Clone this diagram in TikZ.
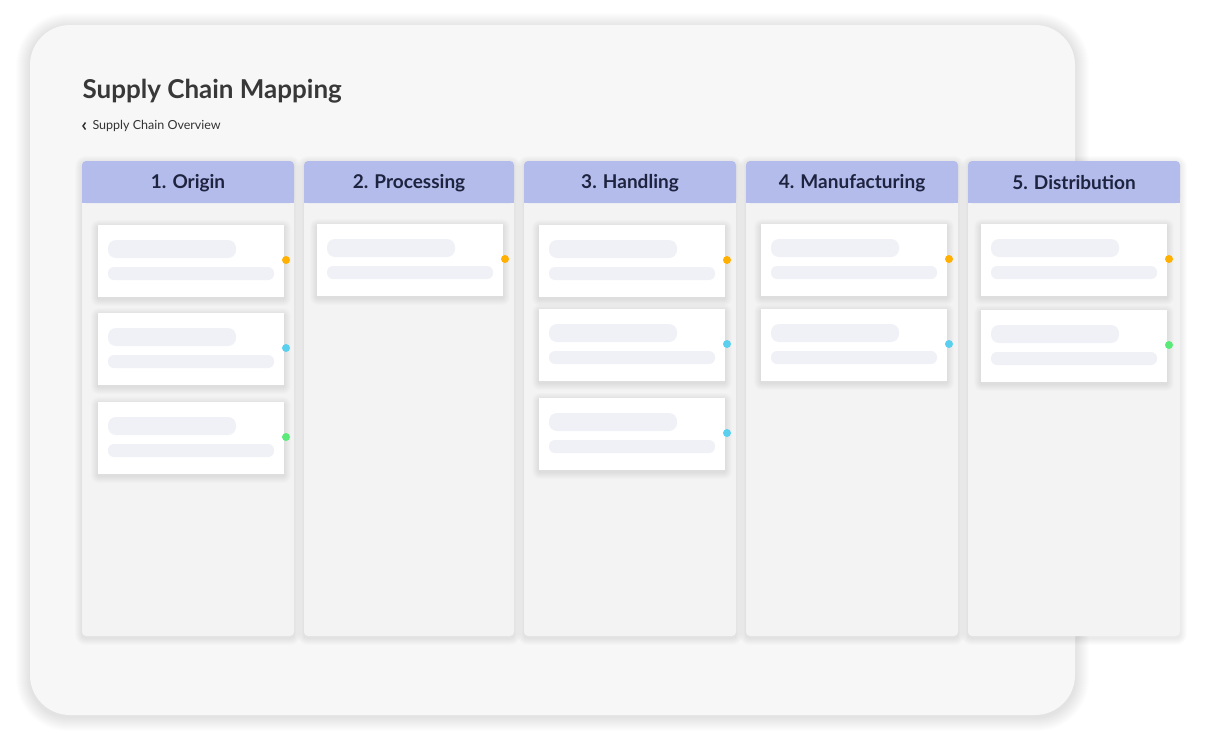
\documentclass[tikz,border=0pt]{standalone}
\usepackage{fontspec}
\setmainfont{Lato}
\definecolor{hdr}{HTML}{B3BCEB}
\definecolor{colbg}{HTML}{F3F3F3}
\definecolor{bar}{HTML}{F0F1F6}
\definecolor{dor}{HTML}{FFB000}
\definecolor{dcy}{HTML}{5BD0EE}
\definecolor{dgr}{HTML}{5BEA7A}
\definecolor{navy}{HTML}{1E2340}
\tikzset{
 colbody/.style={fill=colbg,rounded corners=4pt},
 barA/.style={fill=bar,rounded corners=8pt},
 barB/.style={fill=bar,rounded corners=6pt},
 hdrtext/.style={font=\fontsize{19}{22}\selectfont\bfseries,text=navy},
}
% soft shadow: x1 y1 x2 y2 radius steps opacity
\newcommand{\softshadow}[7]{%
 \foreach \k in {1,...,#6}{
  \path[fill=black,fill opacity=#7,rounded corners=#5+\k]
   (#1-\k,#2-\k+2) rectangle (#3+\k,#4+\k+2);
 }}
\newcommand{\mycard}[4]{% x y color name
 \softshadow{#1}{#2}{#1+186}{#2+72}{1}{7}{0.012}
 \path[fill=white] (#1,#2) rectangle (#1+186,#2+72);
 \path[barA] (#1+10,#2+15) rectangle (#1+138,#2+33);
 \path[barB] (#1+10,#2+42) rectangle (#1+176,#2+55);
 \node[circle,fill=#3,inner sep=0pt,minimum size=8pt] (#4) at (#1+188,#2+35) {};
}
\begin{document}
\begin{tikzpicture}[x=1pt,y=-1pt]
\useasboundingbox (0,0) rectangle (1229,750);
\softshadow{30}{25}{1075}{715}{38}{14}{0.006}
\path[fill=white!97!black,rounded corners=40pt] (30,25) rectangle (1075,715);
\node[anchor=west,font=\fontsize{26}{30}\selectfont\bfseries,text=black!78] (title) at (79,91) {Supply Chain Mapping};
\coordinate (chev) at (83,126);
\draw[line width=1.5pt,black!80] ([xshift=2.5pt,yshift=-3.5pt]chev) -- (chev) -- ([xshift=2.5pt,yshift=3.5pt]chev);
\node[anchor=west,font=\fontsize{12.5}{15}\selectfont,text=black!80] (sub) at (89,126) {Supply Chain Overview};
\foreach \x/\w/\t [count=\i] in {82/212/1. Origin,304/210/2. Processing,524/212/3. Handling,746/212/4. Manufacturing,968/212/5. Distribution}{
 \softshadow{\x}{161}{\x+\w}{636}{4}{7}{0.01}
 \path[colbody] (\x,161) rectangle (\x+\w,636);
 \path[fill=hdr,rounded corners=4pt] (\x,161) rectangle (\x+\w,203);
 \path[fill=hdr] (\x,185) rectangle (\x+\w,203);
 \node[hdrtext] (h\i) at (\x+\w/2,183) {\t};
}
\mycard{98}{225}{dor}{a1}
\mycard{98}{313}{dcy}{a2}
\mycard{98}{402}{dgr}{a3}
\mycard{317}{224}{dor}{b1}
\mycard{539}{225}{dor}{c1}
\mycard{539}{309}{dcy}{c2}
\mycard{539}{398}{dcy}{c3}
\mycard{761}{224}{dor}{d1}
\mycard{761}{309}{dcy}{d2}
\mycard{981}{224}{dor}{e1}
\mycard{981}{310}{dgr}{e2}
\end{tikzpicture}
\end{document}
